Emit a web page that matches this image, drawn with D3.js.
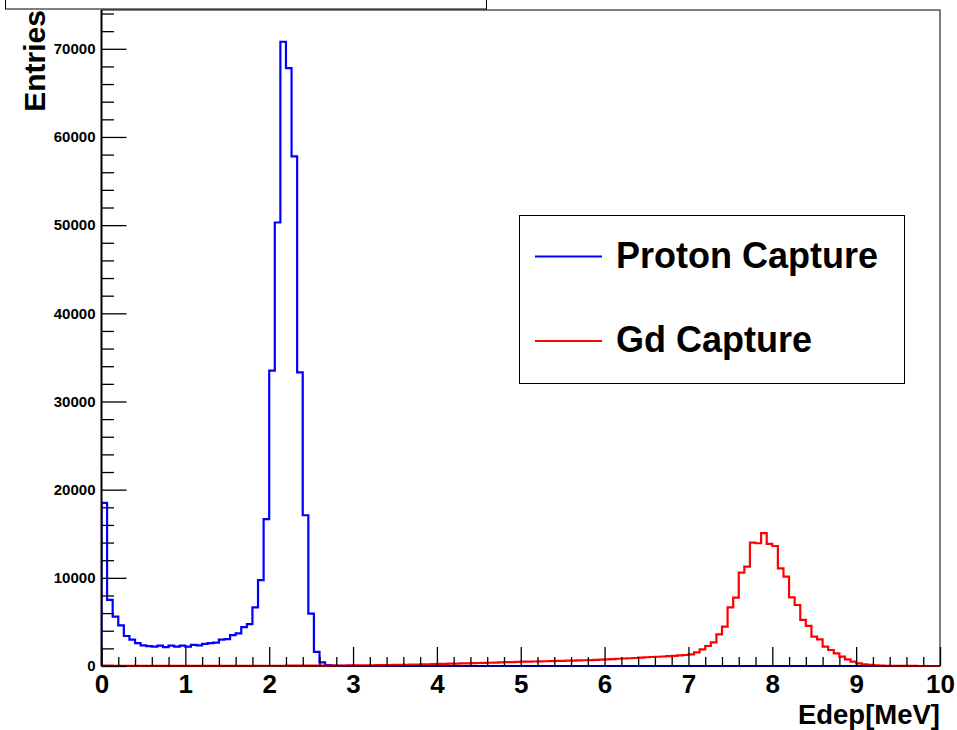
<!DOCTYPE html>
<html>
<head>
<meta charset="utf-8">
<script src="https://cdn.jsdelivr.net/npm/d3@7"></script>
<style>
  html, body { margin: 0; padding: 0; background: #fff; }
  svg { display: block; font-family: "Liberation Sans", Arial, Helvetica, sans-serif; font-weight: bold; }
</style>
</head>
<body>
<svg id="chart" width="957" height="730"></svg>
<script>
// ---- data ----
const xRange = [0, 10];          // Edep [MeV]
const nBins = 150;
const xTickLabels = ["0","1","2","3","4","5","6","7","8","9","10"];
const yTickLabels = ["0","10000","20000","30000","40000","50000","60000","70000"];
const seriesNames = ["Proton Capture", "Gd Capture"];

const protonCapture = [
  18500,7500,5600,4600,3400,3000,2600,2350,2250,2200,2300,2150,2300,2200,2300,
  2200,2400,2350,2500,2600,2650,3000,3050,3500,3700,4400,4750,6650,9750,16650,
  33500,50300,70800,67800,57800,33300,17100,5950,1600,400,100,40,20,10,5,
  0,0,0,0,0,0,0,0,0,0,0,0,0,0,0,
  0,0,0,0,0,0,0,0,0,0,0,0,0,0,0,
  0,0,0,0,0,0,0,0,0,0,0,0,0,0,0,
  0,0,0,0,0,0,0,0,0,0,0,0,0,0,0,
  0,0,0,0,0,0,0,0,0,0,0,0,0,0,0,
  0,0,0,0,0,0,0,0,0,0,0,0,0,0,0,
  0,0,0,0,0,0,0,0,0,0,0,0,0,0,0
];

const gdCapture = [
  40,35,30,30,25,25,25,20,20,20,20,20,20,20,20,
  20,20,20,20,20,20,20,25,25,25,25,25,25,30,30,
  30,30,30,35,35,35,40,40,40,45,45,50,50,55,60,
  65,70,75,85,90,100,110,120,130,140,150,165,180,195,210,
  230,245,260,275,290,305,320,340,355,370,390,410,430,450,470,
  490,500,510,525,540,555,570,585,600,615,630,650,670,690,720,
  760,790,820,850,880,910,950,990,1020,1050,1080,1110,1150,1200,1250,
  1320,1550,1890,2270,2690,3590,4460,6660,7750,10590,11270,13990,13920,15060,13840,
  13610,11080,10130,7790,6920,5220,4540,3330,3030,2190,1815,1440,1060,760,490,
  300,200,130,80,50,30,20,12,8,5,3,2,1,0,0
];

// ---- layout ----
const L = 101.5, R = 940, T = 10, B = 666;
const yMax = 74400;

const svg = d3.select("#chart");
const x = d3.scaleLinear().domain(xRange).range([L, R]);
const y = d3.scaleLinear().domain([0, yMax]).range([B, T]);
const binW = (xRange[1] - xRange[0]) / nBins;

// title box (partially off-screen)
svg.append("rect").attr("x", 5.5).attr("y", -20).attr("width", 481).attr("height", 29)
  .attr("fill", "#fff").attr("stroke", "#000").attr("stroke-width", 1);

// frame
svg.append("rect").attr("x", L).attr("y", T).attr("width", R - L).attr("height", B - T)
  .attr("fill", "none").attr("stroke", "#000").attr("stroke-width", 1);

svg.append("defs").append("clipPath").attr("id", "clip")
  .append("rect").attr("x", L).attr("y", T - 1).attr("width", R - L + 1).attr("height", B - T + 3);

function stepPath(vals) {
  const p = d3.path();
  p.moveTo(x(0), y(0));
  vals.forEach((v, i) => {
    const x0 = x(xRange[0] + i * binW), x1 = x(xRange[0] + (i + 1) * binW);
    p.lineTo(x0, y(v));
    p.lineTo(x1, y(v));
  });
  p.lineTo(x(xRange[1]), y(0));
  return p.toString();
}

const g = svg.append("g").attr("clip-path", "url(#clip)");
g.append("path").attr("d", stepPath(protonCapture)).attr("fill", "none")
  .attr("stroke", "#0000ff").attr("stroke-width", 2.2).attr("stroke-linejoin", "miter");
g.append("path").attr("d", stepPath(gdCapture)).attr("fill", "none")
  .attr("stroke", "#ff0000").attr("stroke-width", 2.2).attr("stroke-linejoin", "miter");

// Y axis (ticks inside)
const yMajor = yTickLabels.map(Number);
const yMinor = d3.range(0, yMax + 1, 2000).filter(v => v % 10000 !== 0);
const yAxis = d3.axisRight(y).tickValues(yMajor).tickSize(25).tickFormat((d, i) => yTickLabels[i]);
const ya = svg.append("g").attr("transform", `translate(${L},0)`).call(yAxis);
ya.select(".domain").attr("stroke", "#000").attr("stroke-width", 2).attr("d", `M0,${B}V${T}`);
ya.selectAll(".tick line").attr("stroke", "#000").attr("stroke-width", 1.3);
ya.selectAll(".tick text").attr("x", -6).attr("text-anchor", "end")
  .style("font-size", "15px").style("font-weight", "bold").attr("fill", "#000")
  .attr("font-family", "Liberation Sans, Arial, sans-serif");
const yAxisMinor = d3.axisRight(y).tickValues(yMinor).tickSize(12.5).tickFormat("");
const yam = svg.append("g").attr("transform", `translate(${L},0)`).call(yAxisMinor);
yam.select(".domain").remove();
yam.selectAll(".tick line").attr("stroke", "#000").attr("stroke-width", 1.3);

// X axis (ticks inside, pointing up)
const xMajor = xTickLabels.map(Number);
const xMinor = d3.range(0, 50).map(i => i * 0.2).filter(v => Math.abs(v - Math.round(v)) > 1e-6);
const xAxis = d3.axisTop(x).tickValues(xMajor).tickSize(19).tickFormat((d, i) => xTickLabels[i]);
const xa = svg.append("g").attr("transform", `translate(0,${B})`).call(xAxis);
xa.select(".domain").attr("stroke", "#000").attr("stroke-width", 1).attr("d", `M${L},0H${R}`);
xa.selectAll(".tick line").attr("stroke", "#000").attr("stroke-width", 1.3);
xa.selectAll(".tick text").attr("y", 27).attr("dy", 0).attr("text-anchor", "middle")
  .style("font-size", "26px").style("font-weight", "bold").attr("fill", "#000")
  .attr("font-family", "Liberation Sans, Arial, sans-serif");
const xAxisMinor = d3.axisTop(x).tickValues(xMinor).tickSize(9).tickFormat("");
const xam = svg.append("g").attr("transform", `translate(0,${B})`).call(xAxisMinor);
xam.select(".domain").remove();
xam.selectAll(".tick line").attr("stroke", "#000").attr("stroke-width", 1.3);

// axis titles
svg.append("text").attr("x", R).attr("y", 724).attr("text-anchor", "end")
  .style("font-size", "27.5px").text("Edep[MeV]");
svg.append("text").attr("transform", `translate(45,10) rotate(-90)`).attr("text-anchor", "end")
  .style("font-size", "30px").text("Entries");

// legend
const lg = svg.append("g");
lg.append("rect").attr("x", 519.5).attr("y", 215.5).attr("width", 385).attr("height", 168)
  .attr("fill", "#fff").attr("stroke", "#000").attr("stroke-width", 1);
const legendColors = ["#0000ff", "#ff0000"];
const legendY = [256.5, 341];
seriesNames.forEach((name, i) => {
  lg.append("line").attr("x1", 535).attr("x2", 602).attr("y1", legendY[i]).attr("y2", legendY[i])
    .attr("stroke", legendColors[i]).attr("stroke-width", 2);
  lg.append("text").attr("x", 616).attr("y", legendY[i] + 11)
    .style("font-size", "36px").text(name);
});
</script>
</body>
</html>
